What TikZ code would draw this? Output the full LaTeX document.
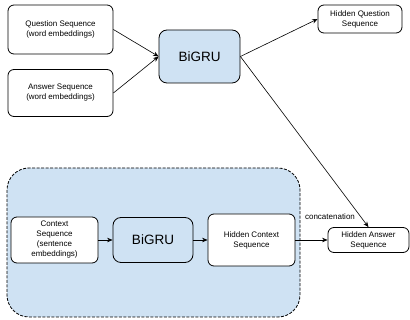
\documentclass[tikz,border=0pt]{standalone}
\usepackage{fontspec}
\setmainfont{Liberation Sans}
\usetikzlibrary{positioning}
\usetikzlibrary{arrows.meta}
\definecolor{grublue}{HTML}{CFE2F3}

\begin{document}
\begin{tikzpicture}[x=1pt,y=-1pt,
  box/.style={draw=black,line width=0.8pt,rounded corners=6pt,fill=white,align=center,
    inner sep=0pt,font=\fontsize{8}{10}\selectfont},
  gru/.style={box,fill=grublue,rounded corners=8pt,font=\fontsize{13.5}{16}\selectfont},
  arr/.style={-{Stealth[length=5.5pt,width=4.5pt]},line width=0.6pt}]
 \useasboundingbox (0,0) rectangle (410,320);
 % context block
 \draw[dash pattern=on 3pt off 1.5pt,line width=0.8pt,fill=grublue,rounded corners=22pt](7,168) rectangle (300,317);
 % top row
 \node[box,minimum width=105pt,minimum height=49pt] (qseq) at (60.5,29.5) {Question Sequence\\(word embeddings)};
 \node[box,minimum width=105pt,minimum height=47pt] (aseq) at (60.5,93) {Answer Sequence\\(word embeddings)};
 \node[gru,minimum width=81pt,minimum height=53pt] (gru1) at (199.5,56.5) {BiGRU};
 \node[box,minimum width=84pt,minimum height=28pt] (hq) at (360,19) {Hidden Question\\Sequence};
 % bottom row
 \node[box,minimum width=87pt,minimum height=46pt] (cseq) at (54.5,240) {Context\\Sequence\\(sentence\\embeddings)};
 \node[gru,minimum width=80pt,minimum height=45pt] (gru2) at (153,240) {BiGRU};
 \node[box,minimum width=87pt,minimum height=52pt] (hc) at (251.5,240) {Hidden Context\\Sequence};
 \node[box,minimum width=81pt,minimum height=25pt] (ha) at (368.5,240) {Hidden Answer\\Sequence};
 \node[font=\fontsize{8}{10}\selectfont] (cat) at (330,217) {concatenation};
 \draw[arr](qseq.east)--(gru1.west);
 \draw[arr](aseq.east)--(gru1.west);
 \draw[arr](gru1.east)--(hq.west);
 \draw[arr](gru1.east)--(ha.north);
 \draw[arr](cseq)--(gru2);
 \draw[arr](gru2)--(hc);
 \draw[arr](hc)--(ha);
\end{tikzpicture}
\end{document}
